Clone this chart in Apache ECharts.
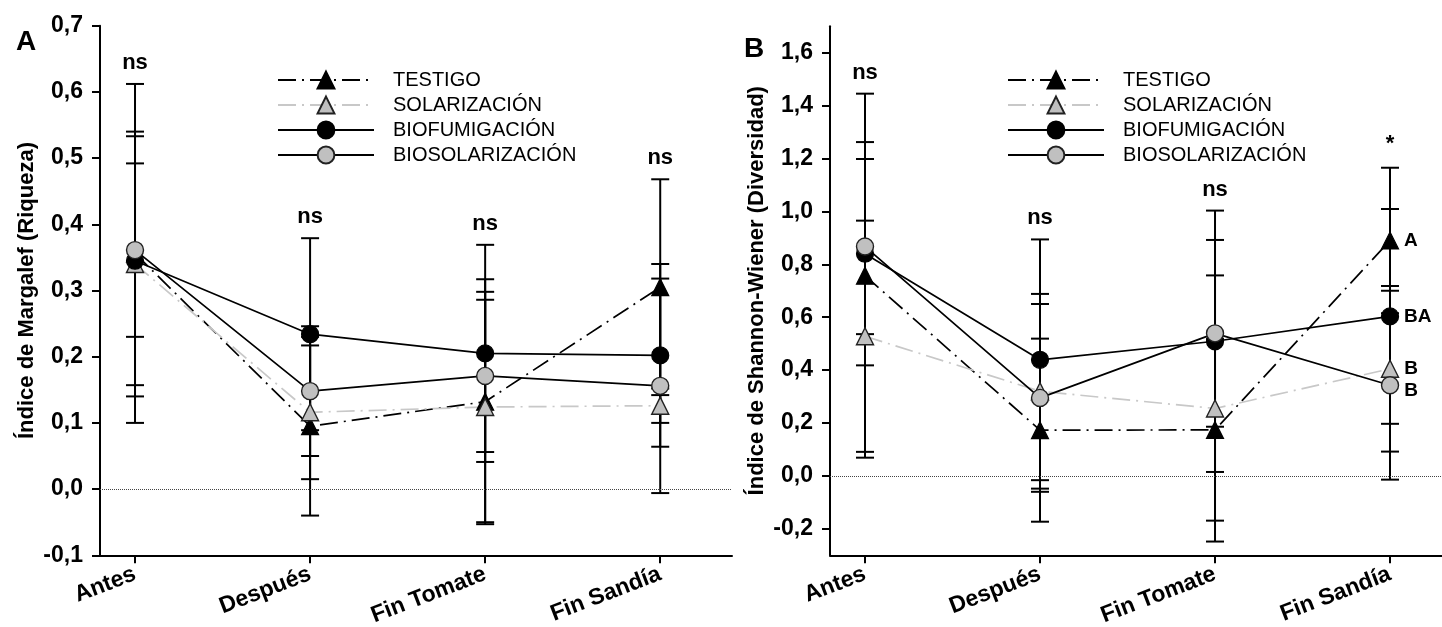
<!DOCTYPE html>
<html>
<head>
<meta charset="utf-8">
<script src="https://cdn.jsdelivr.net/npm/echarts@6/dist/echarts.min.js"></script>
<style>
html,body{margin:0;padding:0;background:#fff;}
#chart{width:1442px;height:627px;}
</style>
</head>
<body>
<div id="chart"></div>
<script>
// ---------- DATA ----------
const categories = ['Antes', 'Después', 'Fin Tomate', 'Fin Sandía'];
const seriesNames = ['TESTIGO', 'SOLARIZACIÓN', 'BIOFUMIGACIÓN', 'BIOSOLARIZACIÓN'];

// Panel A: Índice de Margalef (Riqueza) — means and error (±)
const A_testigo = [0.356, 0.095, 0.132, 0.305];
const A_testigoErr = [0.256, 0.135, 0.185, 0.163];
const A_solar = [0.340, 0.116, 0.124, 0.126];
const A_solarErr = [0.200, 0.101, 0.174, 0.026];
const A_biofum = [0.345, 0.234, 0.205, 0.202];
const A_biofumErr = [0.188, 0.145, 0.164, 0.138];
const A_biosol = [0.361, 0.148, 0.171, 0.156];
const A_biosolErr = [0.131, 0.098, 0.115, 0.162];
const A_sig = ['ns', 'ns', 'ns', 'ns'];
const A_ticks = [-0.1, 0.0, 0.1, 0.2, 0.3, 0.4, 0.5, 0.6, 0.7];

// Panel B: Índice de Shannon-Wiener (Diversidad)
const B_testigo = [0.757, 0.173, 0.174, 0.890];
const B_testigoErr = [0.688, 0.346, 0.343, 0.275];
const B_solar = [0.528, 0.320, 0.255, 0.405];
const B_solarErr = [0.437, 0.368, 0.503, 0.313];
const B_biofum = [0.840, 0.439, 0.509, 0.603];
const B_biofumErr = [0.422, 0.455, 0.494, 0.406];
const B_biosol = [0.867, 0.295, 0.539, 0.343];
const B_biosolErr = [0.331, 0.355, 0.353, 0.357];
const B_sig = ['ns', 'ns', 'ns', '*'];
const B_letters = ['A', 'B', 'BA', 'B']; // at Fin Sandía, per series
const B_ticks = [-0.2, 0.0, 0.2, 0.4, 0.6, 0.8, 1.0, 1.2, 1.4, 1.6];

// ---------- STYLE ----------
const FONT = '"Liberation Sans", Arial, sans-serif';
const GREY = '#c0c0c0';
const dashDot = [18, 6, 2, 6];
const styles = [
  { symbol: 'triangle', line: { color: '#000', type: dashDot, width: 1.7 }, item: { color: '#000', borderColor: '#000', borderWidth: 1.2 } },
  { symbol: 'triangle', line: { color: '#c8c8c8', type: dashDot, width: 1.7 }, item: { color: GREY, borderColor: '#222', borderWidth: 1.4 } },
  { symbol: 'circle', line: { color: '#000', type: 'solid', width: 1.7 }, item: { color: '#000', borderColor: '#000', borderWidth: 1.2 } },
  { symbol: 'circle', line: { color: '#000', type: 'solid', width: 1.7 }, item: { color: GREY, borderColor: '#222', borderWidth: 1.4 } }
];

const fmt = v => (Math.round(v * 10) / 10).toFixed(1).replace('.', ',');

function errRender(params, api) {
  const x = api.value(0), lo = api.value(1), hi = api.value(2);
  const p1 = api.coord([x, hi]), p2 = api.coord([x, lo]);
  const w = 9;
  const st = { stroke: '#000', lineWidth: 2 };
  return {
    type: 'group', children: [
      { type: 'line', shape: { x1: p1[0], y1: p1[1], x2: p2[0], y2: p2[1] }, style: st },
      { type: 'line', shape: { x1: p1[0] - w, y1: p1[1], x2: p1[0] + w, y2: p1[1] }, style: st },
      { type: 'line', shape: { x1: p2[0] - w, y1: p2[1], x2: p2[0] + w, y2: p2[1] }, style: st }
    ]
  };
}

function sigRender(sig) {
  return function (params, api) {
    const p = api.coord([api.value(0), api.value(1)]);
    const t = sig[params.dataIndex];
    return {
      type: 'text', x: p[0], y: p[1] - (t === '*' ? 24 : 21),
      style: { text: t, font: 'bold 22px ' + FONT, fill: '#000', textAlign: 'center', textVerticalAlign: 'middle' }
    };
  };
}

function buildPanel(idx, means, errs, sig, letters) {
  const out = [];
  means.forEach((m, s) => {
    const data = m.map((v, i) => {
      if (letters && i === m.length - 1) {
        return {
          value: [i, v],
          label: {
            show: true, formatter: letters[s], position: 'right', distance: 5,
            offset: s === 3 ? [0, 6] : [0, 0],
            fontFamily: FONT, fontWeight: 'bold', fontSize: 19, color: '#000'
          }
        };
      }
      return [i, v];
    });
    out.push({
      name: seriesNames[s], type: 'line', xAxisIndex: idx, yAxisIndex: idx,
      data: data, symbol: styles[s].symbol, symbolSize: 17,
      lineStyle: styles[s].line, itemStyle: styles[s].item,
      z: 3, animation: false, silent: true,
      markLine: s === 0 ? {
        silent: true, symbol: 'none', label: { show: false },
        lineStyle: { type: 'dotted', color: '#444', width: 1 },
        data: [{ yAxis: 0 }], animation: false
      } : undefined
    });
  });
  const errData = [];
  means.forEach((m, s) => m.forEach((v, i) => errData.push([i, v - errs[s][i], v + errs[s][i]])));
  out.push({
    type: 'custom', xAxisIndex: idx, yAxisIndex: idx, renderItem: errRender,
    data: errData, encode: { x: 0, y: [1, 2] }, z: 2, animation: false, silent: true
  });
  const tops = categories.map((c, i) => [i, Math.max(...means.map((m, s) => m[i] + errs[s][i]))]);
  out.push({
    type: 'custom', xAxisIndex: idx, yAxisIndex: idx, renderItem: sigRender(sig),
    data: tops, encode: { x: 0, y: 1 }, z: 4, animation: false, silent: true
  });
  return out;
}

function xAxisCfg(idx, max) {
  return {
    type: 'value', gridIndex: idx, min: -0.2, max: max,
    axisLine: { show: true, onZero: false, lineStyle: { color: '#000', width: 2 } },
    axisTick: { show: true, customValues: [0, 1, 2, 3], length: 8, lineStyle: { color: '#000', width: 2 } },
    axisLabel: {
      customValues: [0, 1, 2, 3], formatter: v => categories[Math.round(v)],
      rotate: 21, margin: 18, color: '#000', fontFamily: FONT, fontWeight: 'bold', fontSize: 23
    },
    splitLine: { show: false }
  };
}

function yAxisCfg(idx, min, max, ticks, name) {
  return {
    type: 'value', gridIndex: idx, min: min, max: max,
    name: name, nameLocation: 'middle', nameRotate: 90, nameGap: 62,
    nameTextStyle: { color: '#000', fontFamily: FONT, fontWeight: 'bold', fontSize: 22 },
    axisLine: { show: true, onZero: false, lineStyle: { color: '#000', width: 2 } },
    axisTick: { show: true, customValues: ticks, length: 8, lineStyle: { color: '#000', width: 2 } },
    axisLabel: {
      customValues: ticks, formatter: fmt, margin: 17,
      color: '#000', fontFamily: FONT, fontWeight: 'bold', fontSize: 23
    },
    splitLine: { show: false }
  };
}

function legendCfg(left) {
  return {
    data: seriesNames, orient: 'vertical', left: left, top: 65,
    itemWidth: 96, itemHeight: 21, itemGap: 5,
    textStyle: { color: '#000', fontFamily: FONT, fontSize: 20, padding: [0, 0, 0, 14] },
    selectedMode: false
  };
}

const series = [].concat(
  buildPanel(0, [A_testigo, A_solar, A_biofum, A_biosol], [A_testigoErr, A_solarErr, A_biofumErr, A_biosolErr], A_sig, null),
  buildPanel(1, [B_testigo, B_solar, B_biofum, B_biosol], [B_testigoErr, B_solarErr, B_biofumErr, B_biosolErr], B_sig, B_letters)
);

const chart = echarts.init(document.getElementById('chart'), null, { renderer: 'canvas' });
chart.setOption({
  backgroundColor: '#fff',
  animation: false,
  grid: [
    { left: 100, right: 710, top: 25.7, bottom: 71.7, containLabel: false, outerBoundsMode: 'none' },
    { left: 830, right: 0, top: 26.2, bottom: 71.7, containLabel: false, outerBoundsMode: 'none' }
  ],
  xAxis: [xAxisCfg(0, 3.41), xAxisCfg(1, 3.297)],
  yAxis: [
    yAxisCfg(0, -0.1, 0.7, A_ticks, 'Índice de Margalef (Riqueza)'),
    yAxisCfg(1, -0.3, 1.7, B_ticks, 'Índice de Shannon-Wiener (Diversidad)')
  ],
  legend: [legendCfg(272), legendCfg(1002)],
  graphic: [
    { type: 'text', left: 16, top: 28, style: { text: 'A', font: 'bold 28px ' + FONT, fill: '#000' } },
    { type: 'text', left: 744, top: 35, style: { text: 'B', font: 'bold 28px ' + FONT, fill: '#000' } }
  ],
  series: series
});
</script>
</body>
</html>
